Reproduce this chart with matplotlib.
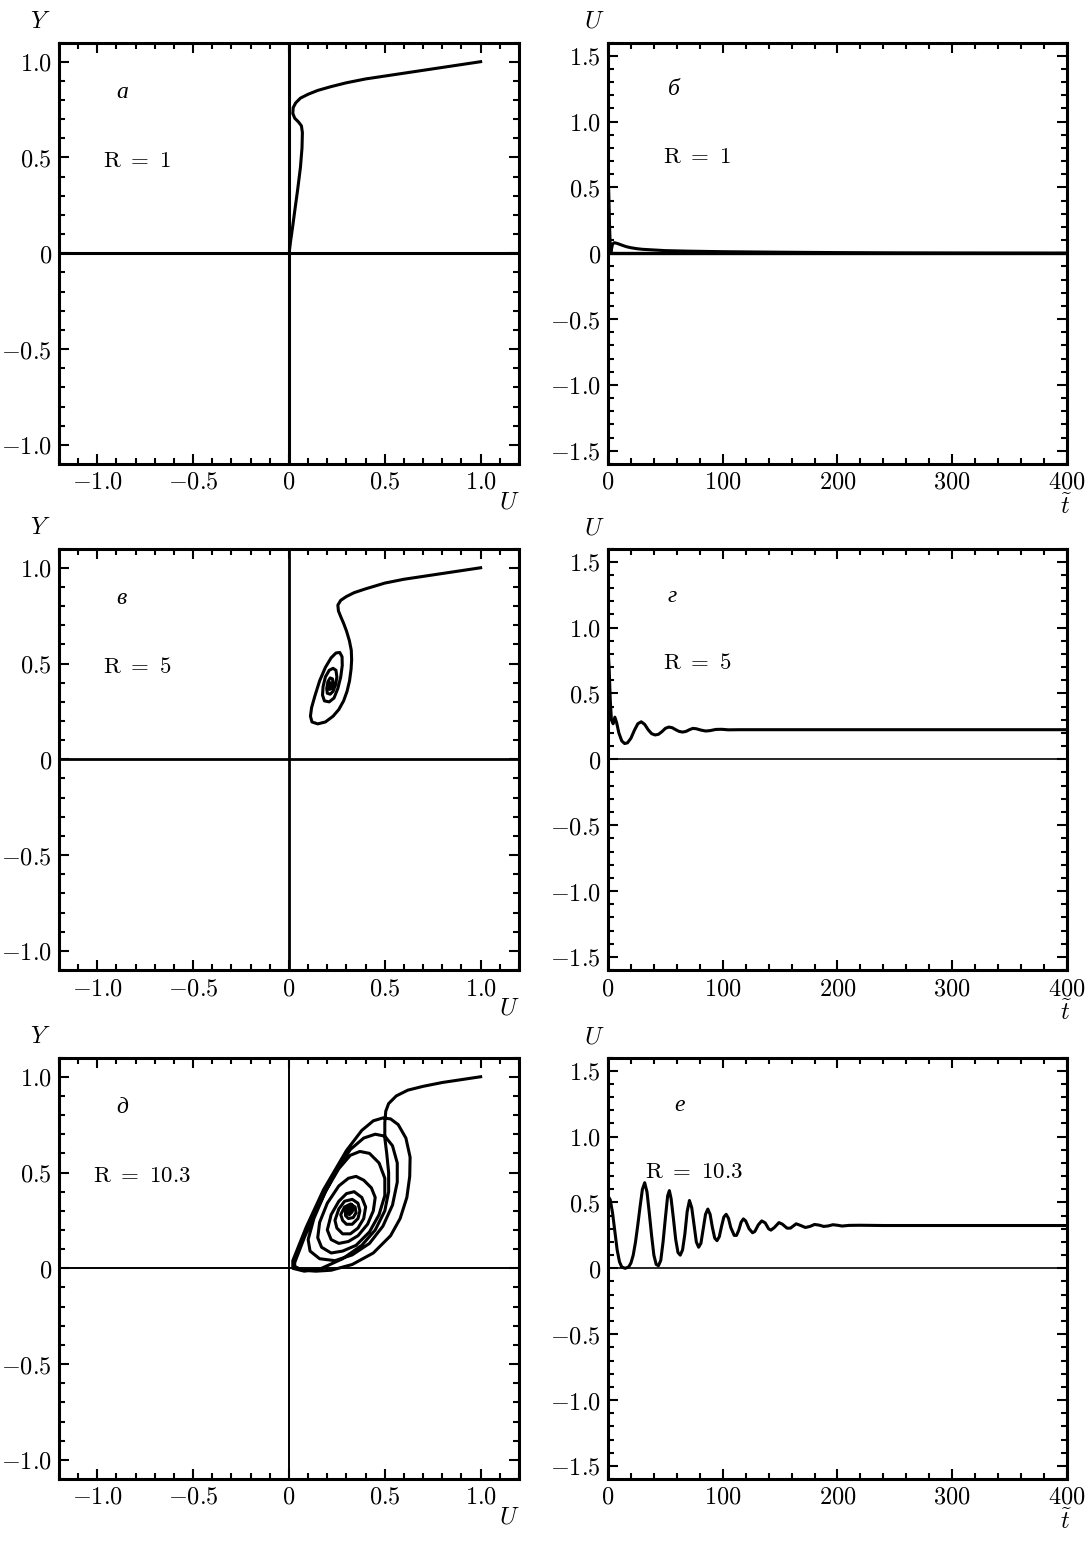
import matplotlib
matplotlib.use("Agg")
import matplotlib.pyplot as plt
from matplotlib.ticker import FixedLocator, MultipleLocator

plt.rcParams['mathtext.fontset'] = 'cm'
plt.rcParams['font.family'] = ['DejaVu Serif']

# --- data ---
# panel а, R = 1 : phase trajectory (U, Y)
a_u = [1.0, 0.9, 0.8, 0.7, 0.6, 0.5, 0.4, 0.3, 0.22, 0.15, 0.1, 0.06, 0.035, 0.022,
       0.02, 0.03, 0.05, 0.065, 0.07, 0.068, 0.06, 0.045, 0.03, 0.018, 0.008, 0.003]
a_y = [1.0, 0.985, 0.97, 0.955, 0.94, 0.925, 0.91, 0.89, 0.87, 0.85, 0.83, 0.81, 0.785, 0.76,
       0.73, 0.705, 0.685, 0.665, 0.63, 0.55, 0.45, 0.33, 0.22, 0.13, 0.06, 0.02]

# panel б, R = 1 : U(t)
b_t = [0, 0.7, 1.4, 2, 2.5, 3, 4, 5.5, 8, 12, 16, 20, 25, 30, 40, 50, 70, 100, 150, 200, 250, 300, 400]
b_u = [0.65, 0.45, 0.2, 0.05, 0.01, 0.03, 0.07, 0.08, 0.075, 0.062, 0.05, 0.042, 0.035, 0.03,
       0.025, 0.02, 0.016, 0.012, 0.008, 0.005, 0.003, 0.002, 0.001]

# panel в, R = 5 : phase trajectory
c_u = [1.0, 0.9, 0.8, 0.7, 0.6, 0.5, 0.4, 0.34, 0.3, 0.27, 0.255, 0.258, 0.27, 0.285, 0.3,
       0.315, 0.325, 0.327, 0.324, 0.316, 0.303, 0.285, 0.26, 0.23, 0.19, 0.15, 0.12, 0.112,
       0.118, 0.135, 0.16, 0.19, 0.22, 0.245, 0.265, 0.277, 0.278, 0.27, 0.255, 0.235, 0.21,
       0.185, 0.175, 0.178, 0.19, 0.21, 0.23, 0.245, 0.25, 0.243, 0.23, 0.215, 0.2, 0.197,
       0.203, 0.215, 0.227, 0.23, 0.222, 0.212, 0.208, 0.215, 0.22, 0.218, 0.212, 0.214]
c_y = [1.0, 0.985, 0.97, 0.955, 0.94, 0.92, 0.89, 0.87, 0.85, 0.83, 0.805, 0.775, 0.745, 0.71,
       0.67, 0.62, 0.57, 0.52, 0.47, 0.41, 0.355, 0.305, 0.26, 0.225, 0.195, 0.185, 0.195,
       0.225, 0.27, 0.33, 0.41, 0.48, 0.53, 0.555, 0.558, 0.535, 0.49, 0.43, 0.37, 0.32, 0.3,
       0.305, 0.335, 0.38, 0.43, 0.465, 0.475, 0.465, 0.43, 0.39, 0.355, 0.34, 0.345, 0.37,
       0.405, 0.425, 0.42, 0.395, 0.37, 0.365, 0.385, 0.4, 0.39, 0.375, 0.38, 0.39]

# panel г, R = 5 : U(t)
g_t = [0, 1, 2, 3, 4.5, 6, 7.5, 9.5, 12, 14.5, 17, 20, 23, 26, 29, 32, 35, 38, 41, 44, 47, 50,
       53, 56, 59, 62, 65, 68, 71, 74, 77, 81, 85, 89, 94, 99, 105, 115, 400]
g_u = [0.85, 0.7, 0.45, 0.3, 0.27, 0.32, 0.28, 0.2, 0.14, 0.12, 0.125, 0.16, 0.22, 0.27, 0.285,
       0.265, 0.225, 0.195, 0.185, 0.19, 0.21, 0.235, 0.245, 0.24, 0.225, 0.212, 0.207, 0.212,
       0.225, 0.235, 0.232, 0.222, 0.215, 0.218, 0.227, 0.228, 0.224, 0.225, 0.225]

# panel д, R = 10.3 : phase trajectory
d_u = [1.0, 0.9, 0.8, 0.7, 0.62, 0.56, 0.52, 0.505, 0.5, 0.5, 0.51, 0.52, 0.52, 0.5, 0.45,
       0.38, 0.28, 0.17, 0.08, 0.02,
       0.02, 0.09, 0.18, 0.3, 0.38, 0.44, 0.49, 0.53, 0.57, 0.61, 0.632, 0.63, 0.615, 0.58,
       0.53, 0.44, 0.33, 0.22, 0.14, 0.07, 0.03,
       0.03, 0.08, 0.15, 0.24, 0.32, 0.39, 0.45, 0.5, 0.54, 0.565, 0.565, 0.54, 0.49, 0.42,
       0.33, 0.24, 0.16, 0.11, 0.1,
       0.13, 0.19, 0.26, 0.32, 0.37, 0.42, 0.47, 0.5, 0.5, 0.47, 0.42, 0.35, 0.28, 0.22,
       0.17, 0.15,
       0.16, 0.2, 0.26, 0.31, 0.35, 0.39, 0.43, 0.45, 0.44, 0.41, 0.36, 0.31, 0.26, 0.22, 0.2,
       0.22, 0.26, 0.3, 0.34, 0.38, 0.4, 0.39, 0.36, 0.32, 0.28, 0.25, 0.24,
       0.26, 0.29, 0.33, 0.36, 0.37, 0.36, 0.33, 0.3, 0.28, 0.27,
       0.29, 0.32, 0.345, 0.35, 0.335, 0.31, 0.295, 0.295,
       0.31, 0.325, 0.335, 0.33, 0.315, 0.3, 0.305,
       0.315, 0.33, 0.325, 0.31, 0.31, 0.32]
d_y = [1.0, 0.985, 0.97, 0.95, 0.93, 0.9, 0.86, 0.82, 0.76, 0.68, 0.6, 0.5, 0.4, 0.3, 0.2,
       0.12, 0.05, 0.0, -0.015, 0.0,
       0.04, 0.215, 0.41, 0.615, 0.72, 0.77, 0.785, 0.78, 0.75, 0.68, 0.58, 0.48, 0.37, 0.26,
       0.17, 0.08, 0.02, -0.01, -0.015, -0.01, 0.01,
       0.03, 0.16, 0.32, 0.5, 0.62, 0.68, 0.7, 0.69, 0.64, 0.55, 0.45, 0.33, 0.22, 0.13,
       0.07, 0.04, 0.05, 0.09, 0.15,
       0.26, 0.4, 0.52, 0.59, 0.61, 0.6, 0.55, 0.47, 0.38, 0.28, 0.19, 0.12, 0.09, 0.08,
       0.11, 0.16,
       0.24, 0.34, 0.43, 0.47, 0.48, 0.46, 0.42, 0.37, 0.3, 0.23, 0.17, 0.14, 0.13, 0.15, 0.2,
       0.28, 0.35, 0.39, 0.4, 0.37, 0.32, 0.26, 0.21, 0.18, 0.18, 0.21, 0.25,
       0.31, 0.35, 0.36, 0.34, 0.3, 0.26, 0.23, 0.23, 0.25, 0.28,
       0.32, 0.335, 0.32, 0.29, 0.265, 0.26, 0.275, 0.3,
       0.325, 0.335, 0.32, 0.295, 0.28, 0.29, 0.31,
       0.325, 0.32, 0.3, 0.295, 0.305, 0.315]

# panel е, R = 10.3 : U(t)
e_t = [0, 2, 4, 6, 8, 10, 12, 15, 18, 20, 22, 24, 26, 28, 30, 32, 34, 36, 38, 40, 42, 44, 46,
       48, 50, 52, 53.5, 55, 57, 59, 61, 63, 65, 67, 69, 71, 73, 75, 77, 79, 81, 83, 85, 87,
       89, 91, 93, 95, 97, 99, 101, 103, 105, 107, 110, 112, 114, 116, 118, 120, 123, 126,
       128, 131, 134, 137, 140, 142, 145, 149, 152, 156, 159, 164, 168, 172, 176, 180, 184,
       188, 192, 196, 200, 204, 210, 220, 240, 400]
e_u = [0.55, 0.52, 0.42, 0.28, 0.14, 0.05, 0.01, 0.0, 0.01, 0.04, 0.1, 0.2, 0.33, 0.47, 0.6,
       0.65, 0.58, 0.42, 0.25, 0.1, 0.03, 0.02, 0.06, 0.2, 0.38, 0.55, 0.59, 0.53, 0.38, 0.22,
       0.12, 0.1, 0.14, 0.26, 0.43, 0.515, 0.46, 0.33, 0.2, 0.16, 0.19, 0.3, 0.41, 0.45, 0.41,
       0.31, 0.23, 0.21, 0.24, 0.32, 0.39, 0.41, 0.38, 0.31, 0.25, 0.25, 0.29, 0.35, 0.375,
       0.36, 0.3, 0.27, 0.28, 0.33, 0.36, 0.345, 0.3, 0.29, 0.31, 0.347, 0.335, 0.305, 0.305,
       0.338, 0.325, 0.31, 0.318, 0.333, 0.328, 0.318, 0.322, 0.331, 0.327, 0.321, 0.326,
       0.327, 0.325, 0.325]

phase_panels = [(a_u, a_y, 'а', r'$\mathrm{R}\ =\ 1$'),
                (c_u, c_y, 'в', r'$\mathrm{R}\ =\ 5$'),
                (d_u, d_y, 'д', r'$\mathrm{R}\ =\ 10.3$')]
time_panels = [(b_t, b_u, 'б', r'$\mathrm{R}\ =\ 1$'),
               (g_t, g_u, 'г', r'$\mathrm{R}\ =\ 5$'),
               (e_t, e_u, 'е', r'$\mathrm{R}\ =\ 10.3$')]

fig = plt.figure(figsize=(10.88, 15.41), dpi=100)

rows_y0 = [0.6989, 0.3705, 0.0402]
row_h = 0.2735
zero_lw_left = [2.2, 2.0, 1.4]
zero_lw_right = [2.4, 1.2, 1.2]
letter_font = dict(family='Liberation Serif', style='italic', size=17)
fs = 17.5


def style_axes(ax, xmaj, xlab, ymaj, ylab, xmin, ymin):
    ax.xaxis.set_major_locator(FixedLocator(xmaj))
    ax.set_xticklabels(xlab, fontsize=fs)
    ax.yaxis.set_major_locator(FixedLocator(ymaj))
    ax.set_yticklabels(ylab, fontsize=fs)
    ax.xaxis.set_minor_locator(MultipleLocator(xmin))
    ax.yaxis.set_minor_locator(MultipleLocator(ymin))
    ax.tick_params(which='both', direction='in', top=True, right=True, width=1.5)
    ax.tick_params(which='major', length=7, pad=5)
    ax.tick_params(which='minor', length=4)
    for s in ax.spines.values():
        s.set_linewidth(2.2)


for i in range(3):
    # left column: phase plane
    u, y, letter, rtxt = phase_panels[i]
    ax = fig.add_axes([0.0542, rows_y0[i], 0.4228, row_h])
    ax.axhline(0, color='black', lw=zero_lw_left[i])
    ax.axvline(0, color='black', lw=zero_lw_left[i])
    ax.plot(u, y, color='black', lw=2.2, solid_joinstyle='round')
    ax.set_xlim(-1.2, 1.2)
    ax.set_ylim(-1.1, 1.1)
    style_axes(ax, [-1.0, -0.5, 0, 0.5, 1.0],
               [r'$-1.0$', r'$-0.5$', r'$0$', r'$0.5$', r'$1.0$'],
               [-1.0, -0.5, 0, 0.5, 1.0],
               [r'$-1.0$', r'$-0.5$', r'$0$', r'$0.5$', r'$1.0$'], 0.1, 0.1)
    ax.text(-0.9, 0.84, letter, fontdict=letter_font, ha='left', va='center')
    ax.text(-1.02 if i == 2 else -0.97, 0.48, rtxt, fontsize=16.5, ha='left', va='center')
    ax.text(-0.04, 1.05, r'$Y$', transform=ax.transAxes, fontsize=fs, ha='center', va='center')
    ax.text(0.98, -0.09, r'$U$', transform=ax.transAxes, fontsize=fs, ha='center', va='center')

    # right column: U(t)
    t, uu, letter, rtxt = time_panels[i]
    ax = fig.add_axes([0.5588, rows_y0[i], 0.4219, row_h])
    ax.axhline(0, color='black', lw=zero_lw_right[i])
    ax.plot(t, uu, color='black', lw=2.2, solid_joinstyle='round')
    ax.set_xlim(0, 400)
    ax.set_ylim(-1.6, 1.6)
    style_axes(ax, [0, 100, 200, 300, 400],
               [r'$0$', r'$100$', r'$200$', r'$300$', r'$400$'],
               [-1.5, -1.0, -0.5, 0, 0.5, 1.0, 1.5],
               [r'$-1.5$', r'$-1.0$', r'$-0.5$', r'$0$', r'$0.5$', r'$1.0$', r'$1.5$'], 20, 0.1)
    ax.text(52 if i < 2 else 58, 1.24, letter, fontdict=letter_font, ha='left', va='center')
    ax.text(48 if i < 2 else 32, 0.73, rtxt, fontsize=16.5, ha='left', va='center')
    ax.text(-0.03, 1.05, r'$U$', transform=ax.transAxes, fontsize=fs, ha='center', va='center')
    ax.text(0.998, -0.1, r'$\widetilde{t}$', transform=ax.transAxes, fontsize=fs,
            ha='center', va='center')

fig.savefig('out.png', dpi=100)
